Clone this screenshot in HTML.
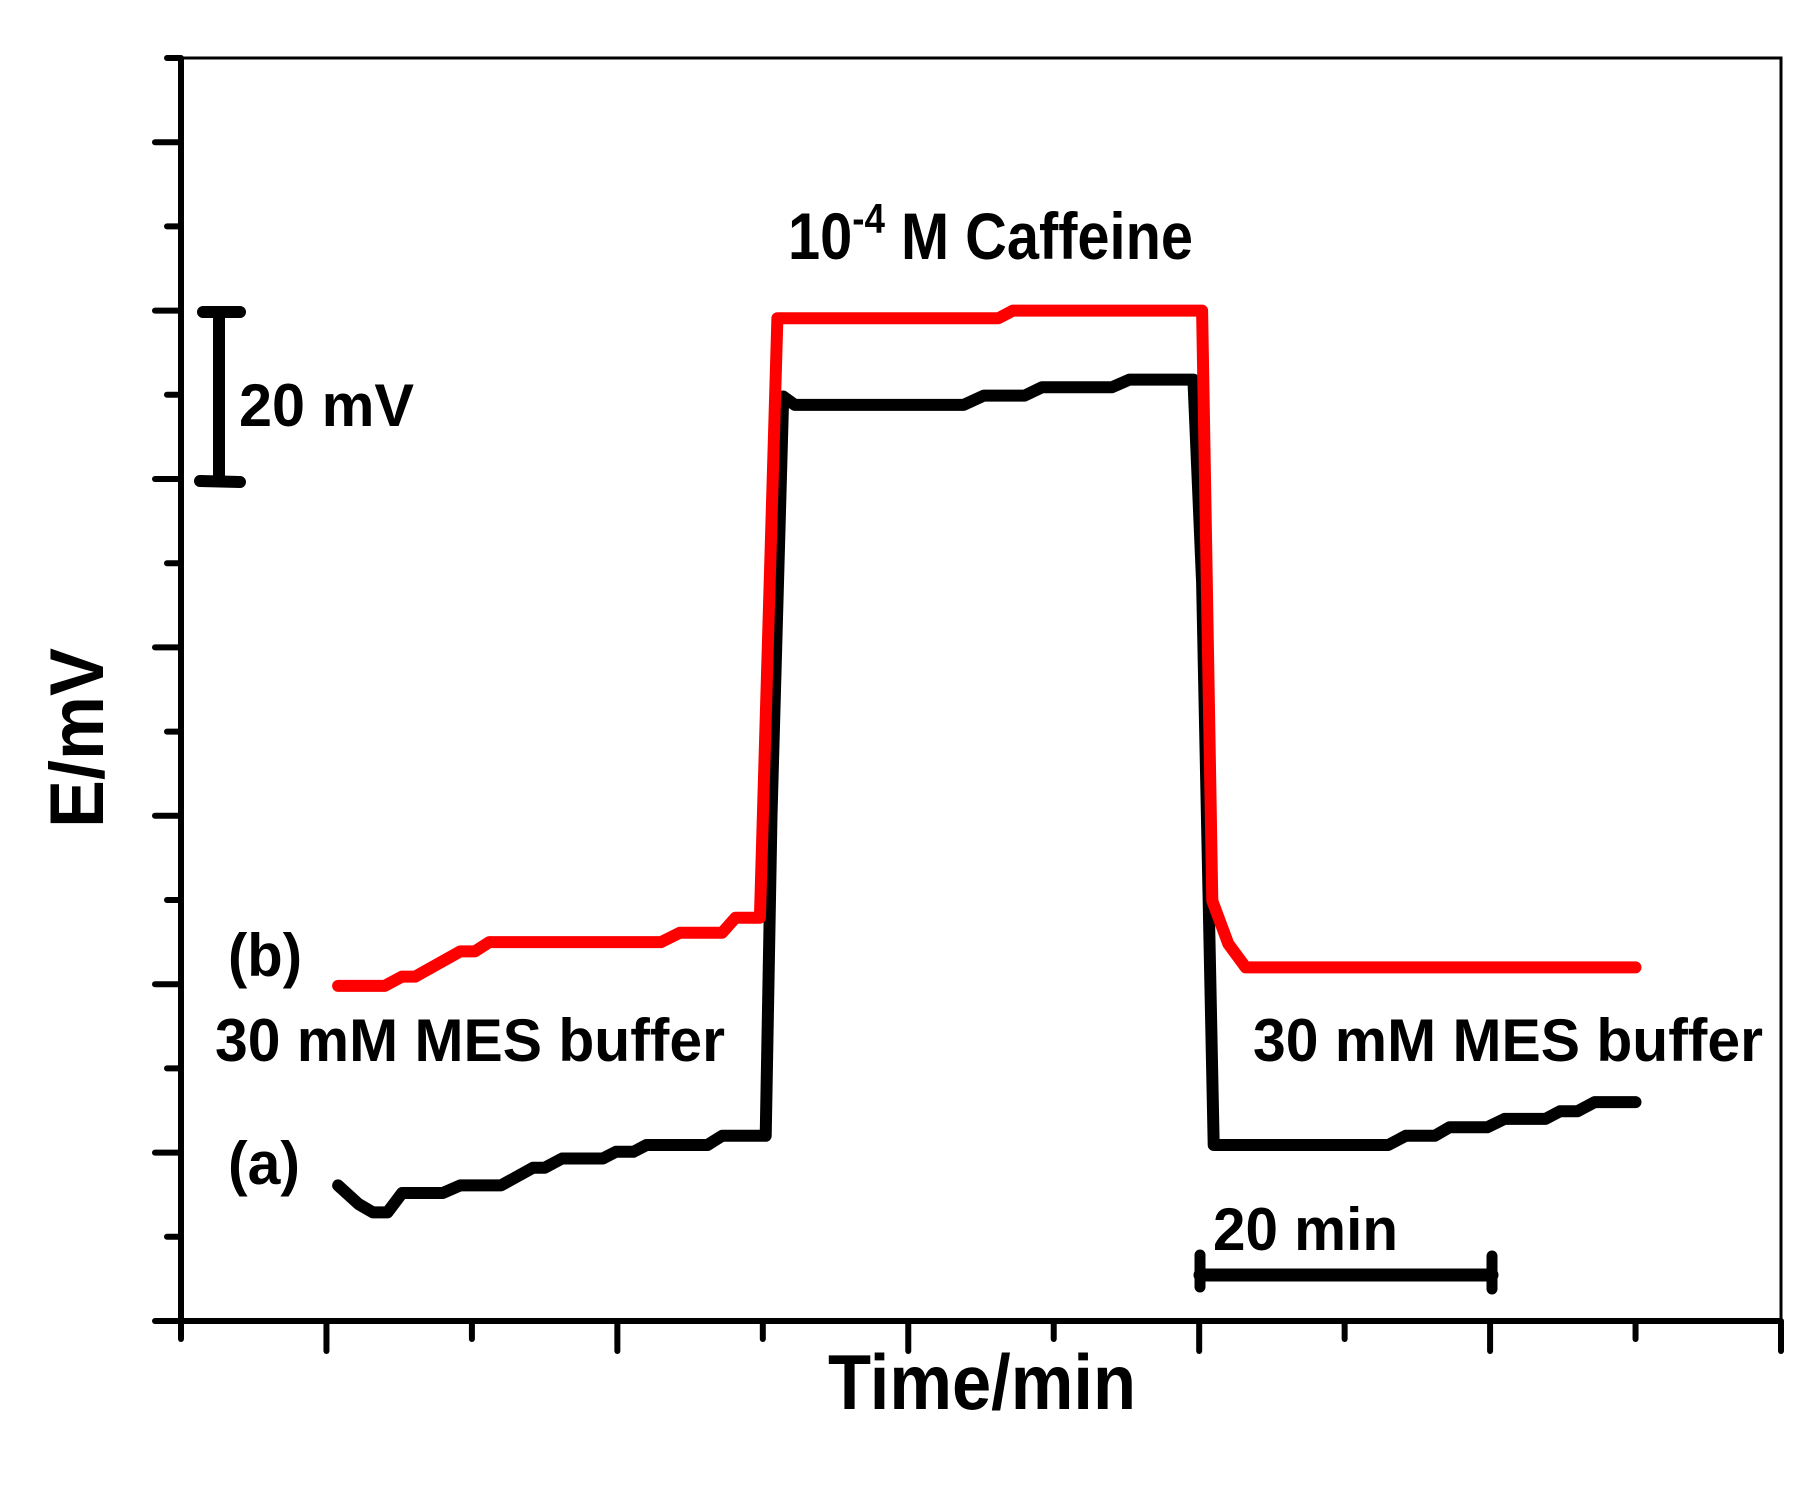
<!DOCTYPE html>
<html><head><meta charset="utf-8"><style>
html,body{margin:0;padding:0;background:#fff}
svg{display:block}
text{font-family:"Liberation Sans",Arial,sans-serif;font-weight:bold;fill:#000}
</style></head><body>
<svg id="chart" width="1819" height="1493" viewBox="0 0 1819 1493" xmlns="http://www.w3.org/2000/svg">
<g id="axes"></g>
<g id="series"></g>
<g id="annot">
<text x="788" y="259" font-size="66" textLength="405" lengthAdjust="spacingAndGlyphs">10<tspan dy="-26" font-size="42">-4</tspan><tspan dy="26"> M Caffeine</tspan></text>
<text x="828" y="1409" font-size="78" textLength="308" lengthAdjust="spacingAndGlyphs">Time/min</text>
<text transform="translate(103,828) rotate(-90)" font-size="76" textLength="180" lengthAdjust="spacingAndGlyphs">E/mV</text>
<text x="239" y="426" font-size="60" textLength="175" lengthAdjust="spacingAndGlyphs">20 mV</text>
<text x="228" y="976" font-size="60" textLength="74" lengthAdjust="spacingAndGlyphs">(b)</text>
<text x="228" y="1184" font-size="60" textLength="72" lengthAdjust="spacingAndGlyphs">(a)</text>
<text x="215" y="1061" font-size="60" textLength="510" lengthAdjust="spacingAndGlyphs">30 mM MES buffer</text>
<text x="1253" y="1061" font-size="60" textLength="510" lengthAdjust="spacingAndGlyphs">30 mM MES buffer</text>
<text x="1213" y="1250" font-size="60" textLength="185" lengthAdjust="spacingAndGlyphs">20 min</text>
<g stroke="#000" stroke-linecap="round">
<line x1="219" y1="312" x2="219" y2="481" stroke-width="12"/>
<line x1="203" y1="312" x2="240" y2="312" stroke-width="12"/>
<line x1="200" y1="481" x2="240" y2="482" stroke-width="12"/>
</g>
<g stroke="#000" stroke-linecap="round">
<line x1="1200" y1="1275" x2="1492" y2="1275" stroke-width="13"/>
<line x1="1200" y1="1255" x2="1200" y2="1287" stroke-width="11"/>
<line x1="1492" y1="1256" x2="1492" y2="1289" stroke-width="11"/>
</g>
</g>
</svg>
<script>
const xTicksMin = [0,5,10,15,20,25,30,35,40,45,50,55];
const yTicksMv = [0,10,20,30,40,50,60,70,80,90,100,110,120,130,140,150];
const aTime = [5.4,6.1,6.6,7.1,7.6,9.0,9.6,11.0,12.1,12.5,13.1,14.5,14.95,15.55,16.0,18.1,18.6,20.1,20.3,20.7,21.1,26.9,27.6,29.0,29.6,32.0,32.6,34.8,35.1,35.5,41.5,42.1,43.1,43.6,44.9,45.5,46.9,47.4,48.0,48.6,50.0];
const aMv = [16.1,13.9,12.9,12.9,15.2,15.2,16.1,16.1,18.2,18.2,19.3,19.3,20.1,20.1,20.9,20.9,22.0,22.0,60,109.8,108.8,108.8,109.9,109.9,110.9,110.9,111.8,111.8,87.7,20.9,20.9,22.0,22.0,23.0,23.0,24.0,24.0,24.9,24.9,26.0,26.0];
const bTime = [5.4,7.0,7.6,8.05,9.6,10.1,10.6,16.5,17.15,18.6,19.06,19.9,20.5,28.1,28.6,35.1,35.45,36.0,36.6,50.0];
const bMv = [39.8,39.8,40.9,40.9,43.9,43.9,45.0,45.0,46.1,46.1,47.9,47.9,119.1,119.1,120.0,120.0,49.9,44.8,42.0,42.0];

const X0=181, X1=1781, Y0=1321, Y1=58;
function xs(t){return X0+(t-0)/(55-0)*(X1-X0);}
function ys(v){return Y0-(v-0)/(150-0)*(Y0-Y1);}
const NS='http://www.w3.org/2000/svg';
function mk(tag,attrs,parent){const e=document.createElementNS(NS,tag);for(const k in attrs)e.setAttribute(k,attrs[k]);parent.appendChild(e);return e;}
const axes=document.getElementById('axes'), series=document.getElementById('series');
let f=mk('rect',{x:X0,y:Y1,width:X1-X0,height:Y0-Y1,fill:'none',stroke:'#000','stroke-width':3},axes);


let l=mk('line',{x1:X0,y1:Y1,x2:X0,y2:Y0+3,stroke:'#000','stroke-width':6},axes);


l=mk('line',{x1:X0-20,y1:Y0,x2:X1,y2:Y0,stroke:'#000','stroke-width':6},axes);


xTicksMin.forEach((t,i)=>{
  const len = i%2===1?30:18;
  const e=mk('line',{x1:xs(t),y1:Y0,x2:xs(t),y2:Y0+len,stroke:'#000','stroke-width':6,'stroke-linecap':'round'},axes);
  
  
});
yTicksMv.forEach((v,i)=>{
  const len = (15-i)%2===1?26:14;
  const e=mk('line',{x1:X0-len,y1:ys(v),x2:X0,y2:ys(v),stroke:'#000','stroke-width':6,'stroke-linecap':'round'},axes);
  
  
});
function path(ts,vs,color,name){
  const d=ts.map((t,i)=>(i?'L':'M')+xs(t).toFixed(1)+' '+ys(vs[i]).toFixed(1)).join(' ');
  const p=mk('path',{d:d,fill:'none',stroke:color,'stroke-width':12,'stroke-linejoin':'round','stroke-linecap':'round'},series);
  
  
}
path(aTime,aMv,'#000','series-a-line');
path(bTime,bMv,'#ff0000','series-b-line');
</script>
</body></html>
